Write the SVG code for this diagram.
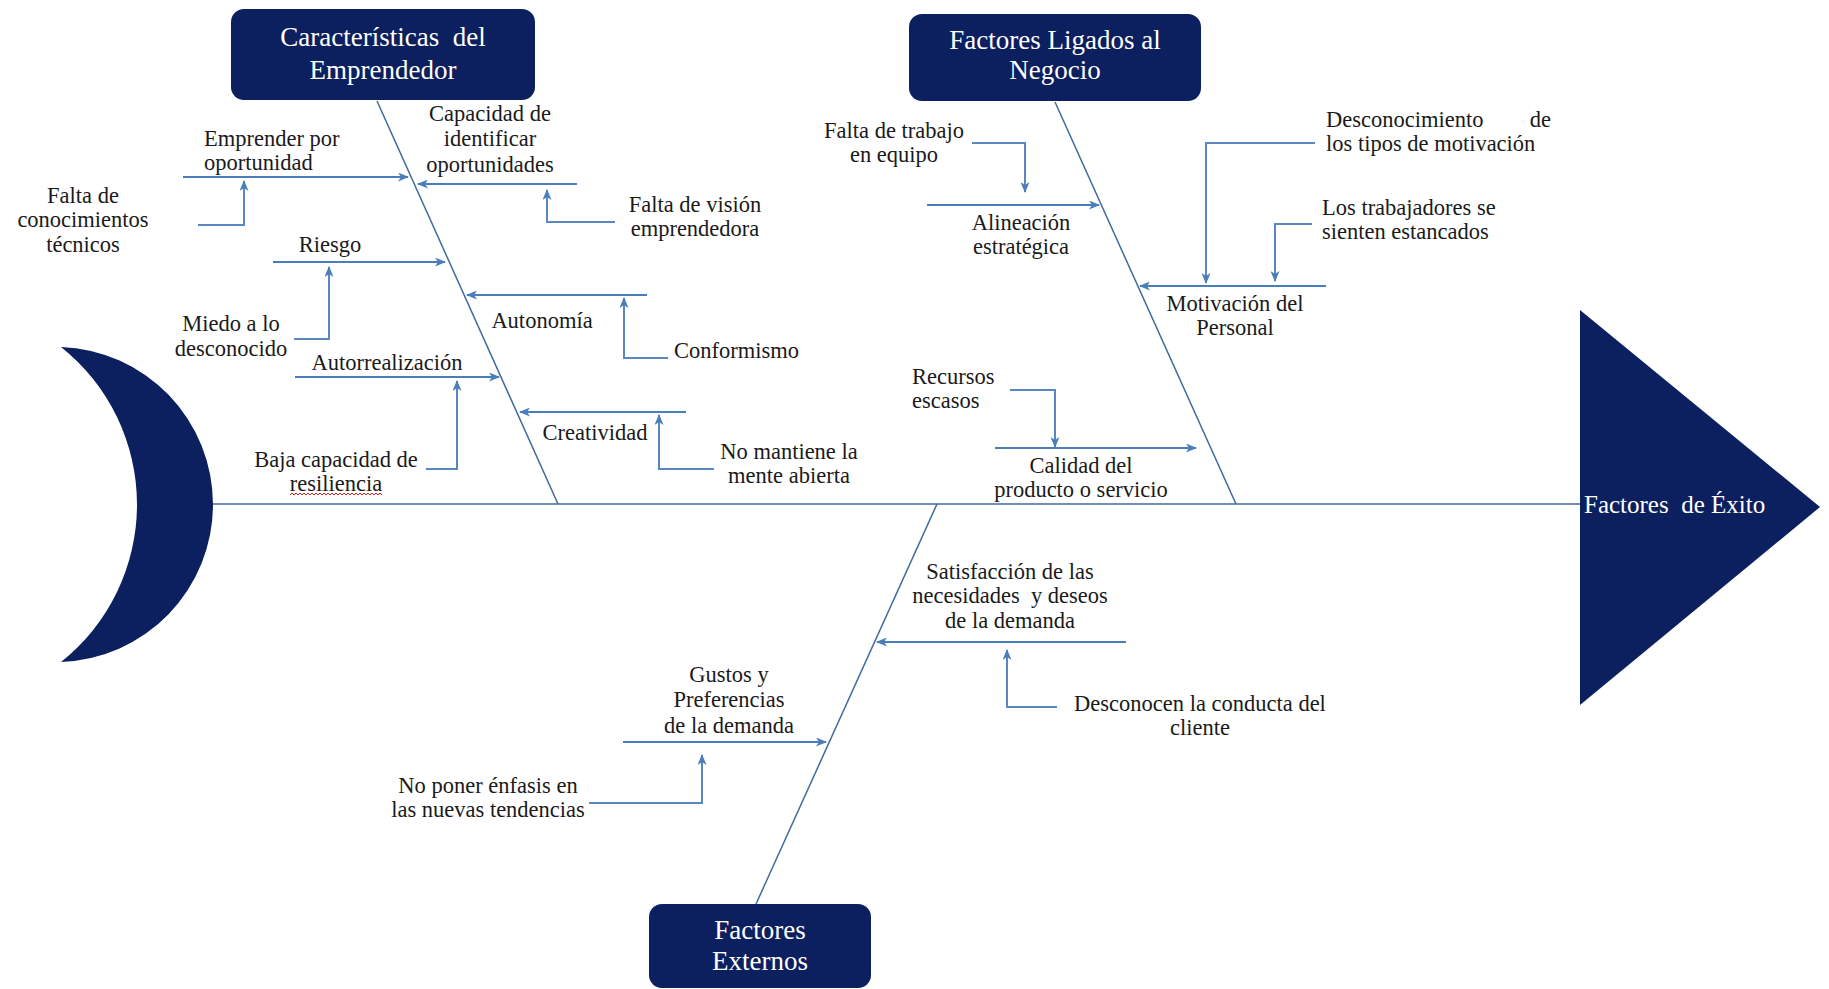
<svg xmlns="http://www.w3.org/2000/svg" width="1829" height="989" viewBox="0 0 1829 989">
<defs>
<marker id="ah" markerWidth="11" markerHeight="9" refX="10" refY="4.5" orient="auto" markerUnits="userSpaceOnUse">
<path d="M0,0 L11,4.5 L0,9 L3,4.5 z" fill="#4a7ebb"/>
</marker>
</defs>
<style>
.box{fill:#0c1f5e;}
.bt{font-family:"Liberation Serif","Times New Roman",serif;font-size:27px;fill:#ffffff;text-anchor:middle;}
.t{font-family:"Liberation Serif","Times New Roman",serif;font-size:22.5px;fill:#1a1a1a;}
.c{text-anchor:middle;}
.bone{stroke:#4169a0;stroke-width:1.5;fill:none;}
.br{stroke:#4a7ebb;stroke-width:2;fill:none;}
.cn{stroke:#5b87c0;stroke-width:2;fill:none;}
</style>
<rect width="1829" height="989" fill="#ffffff"/>

<g id="head">
<path class="box" d="M61,347 A157.6,157.6 0 0 1 61,662 A201.2,201.2 0 0 0 61,347 Z"/>
</g>
<g id="exito">
<polygon class="box" points="1580,310 1580,705 1820,507"/>
<text x="1584" y="513" font-family="Liberation Serif, serif" font-size="25" fill="#ffffff" xml:space="preserve">Factores  de Éxito</text>
</g>

<g id="connectors">
<line class="bone" x1="213" y1="504" x2="1580" y2="504"/>
<line class="bone" x1="377" y1="101" x2="558" y2="504"/>
<line class="bone" x1="1055" y1="102" x2="1236" y2="504"/>
<line class="bone" x1="937" y1="504" x2="756" y2="904"/>

<line class="br" x1="183" y1="177" x2="408" y2="177" marker-end="url(#ah)"/>
<polyline class="cn" points="198,225 244,225 244,181" marker-end="url(#ah)"/>
<line class="br" x1="577" y1="184" x2="418" y2="184" marker-end="url(#ah)"/>
<polyline class="cn" points="615,222 547,222 547,190" marker-end="url(#ah)"/>
<line class="br" x1="273" y1="262" x2="445" y2="262" marker-end="url(#ah)"/>
<polyline class="cn" points="294,339 329,339 329,267" marker-end="url(#ah)"/>
<line class="br" x1="647" y1="295" x2="467" y2="295" marker-end="url(#ah)"/>
<polyline class="cn" points="668,358 624,358 624,298" marker-end="url(#ah)"/>
<line class="br" x1="295" y1="377" x2="499" y2="377" marker-end="url(#ah)"/>
<polyline class="cn" points="426,469 457,469 457,381" marker-end="url(#ah)"/>
<line class="br" x1="686" y1="412" x2="520" y2="412" marker-end="url(#ah)"/>
<polyline class="cn" points="714,469 659,469 659,415" marker-end="url(#ah)"/>

<polyline class="cn" points="972,143 1025,143 1025,192" marker-end="url(#ah)"/>
<line class="br" x1="927" y1="205" x2="1099" y2="205" marker-end="url(#ah)"/>
<polyline class="cn" points="1315,143 1206,143 1206,283" marker-end="url(#ah)"/>
<polyline class="cn" points="1312,224 1275,224 1275,281" marker-end="url(#ah)"/>
<line class="br" x1="1326" y1="286" x2="1140" y2="286" marker-end="url(#ah)"/>
<polyline class="cn" points="1010,390 1055,390 1055,447" marker-end="url(#ah)"/>
<line class="br" x1="995" y1="448" x2="1196" y2="448" marker-end="url(#ah)"/>

<line class="br" x1="1126" y1="642" x2="877" y2="642" marker-end="url(#ah)"/>
<polyline class="cn" points="1057,707 1007,707 1007,650" marker-end="url(#ah)"/>
<line class="br" x1="623" y1="742" x2="826" y2="742" marker-end="url(#ah)"/>
<polyline class="cn" points="589,803 702,803 702,755" marker-end="url(#ah)"/>
</g>

<g id="box-emprendedor">
<rect class="box" x="231" y="9" width="304" height="91" rx="13"/>
<text class="bt" x="383" y="46" xml:space="preserve">Características  del</text>
<text class="bt" x="383" y="79">Emprendedor</text>
</g>
<g id="box-negocio">
<rect class="box" x="909" y="14" width="292" height="87" rx="13"/>
<text class="bt" x="1055" y="49">Factores Ligados al</text>
<text class="bt" x="1055" y="79">Negocio</text>
</g>
<g id="box-externos">
<rect class="box" x="649" y="904" width="222" height="84" rx="13"/>
<text class="bt" x="760" y="939">Factores</text>
<text class="bt" x="760" y="970">Externos</text>
</g>

<g id="n-emprender"><text class="t" x="204" y="146">Emprender por</text><text class="t" x="204" y="170">oportunidad</text></g>
<g id="n-falta-conoc"><text class="t c" x="83" y="203">Falta de</text><text class="t c" x="83" y="227">conocimientos</text><text class="t c" x="83" y="252">técnicos</text></g>
<g id="n-capacidad"><text class="t c" x="490" y="121">Capacidad de</text><text class="t c" x="490" y="146">identificar</text><text class="t c" x="490" y="172">oportunidades</text></g>
<g id="n-falta-vision"><text class="t c" x="695" y="212">Falta de visión</text><text class="t c" x="695" y="236">emprendedora</text></g>
<g id="n-riesgo"><text class="t c" x="330" y="252">Riesgo</text></g>
<g id="n-miedo"><text class="t c" x="231" y="331">Miedo a lo</text><text class="t c" x="231" y="356">desconocido</text></g>
<g id="n-autonomia"><text class="t c" x="542" y="328">Autonomía</text></g>
<g id="n-conformismo"><text class="t" x="674" y="358">Conformismo</text></g>
<g id="n-autorreal"><text class="t c" x="387" y="370">Autorrealización</text></g>
<g id="n-baja"><text class="t c" x="336" y="467">Baja capacidad de</text><text class="t c" x="336" y="491">resiliencia</text>
<polyline points="290,495 292,493 294,495 296,493 298,495 300,493 302,495 304,493 306,495 308,493 310,495 312,493 314,495 316,493 318,495 320,493 322,495 324,493 326,495 328,493 330,495 332,493 334,495 336,493 338,495 340,493 342,495 344,493 346,495 348,493 350,495 352,493 354,495 356,493 358,495 360,493 362,495 364,493 366,495 368,493 370,495 372,493 374,495 376,493 378,495 380,493 382,495" fill="none" stroke="#d02020" stroke-width="1"/></g>
<g id="n-creatividad"><text class="t c" x="595" y="440">Creatividad</text></g>
<g id="n-no-mantiene"><text class="t c" x="789" y="459">No mantiene la</text><text class="t c" x="789" y="483">mente abierta</text></g>

<g id="n-falta-trabajo"><text class="t c" x="894" y="138">Falta de trabajo</text><text class="t c" x="894" y="162">en equipo</text></g>
<g id="n-alineacion"><text class="t c" x="1021" y="230">Alineación</text><text class="t c" x="1021" y="254">estratégica</text></g>
<g id="n-desconocimiento"><text class="t" x="1326" y="127">Desconocimiento</text><text class="t" x="1551" y="127" text-anchor="end">de</text><text class="t" x="1326" y="151">los tipos de motivación</text></g>
<g id="n-trabajadores"><text class="t" x="1322" y="215">Los trabajadores se</text><text class="t" x="1322" y="239">sienten estancados</text></g>
<g id="n-motivacion"><text class="t c" x="1235" y="311">Motivación del</text><text class="t c" x="1235" y="335">Personal</text></g>
<g id="n-recursos"><text class="t" x="912" y="384">Recursos</text><text class="t" x="912" y="408">escasos</text></g>
<g id="n-calidad"><text class="t c" x="1081" y="473">Calidad del</text><text class="t c" x="1081" y="497">producto o servicio</text></g>

<g id="n-satisfaccion"><text class="t c" x="1010" y="579">Satisfacción de las</text><text class="t c" x="1010" y="603" xml:space="preserve">necesidades  y deseos</text><text class="t c" x="1010" y="628">de la demanda</text></g>
<g id="n-desconocen"><text class="t c" x="1200" y="711">Desconocen la conducta del</text><text class="t c" x="1200" y="735">cliente</text></g>
<g id="n-gustos"><text class="t c" x="729" y="682">Gustos y</text><text class="t c" x="729" y="707">Preferencias</text><text class="t c" x="729" y="733">de la demanda</text></g>
<g id="n-no-poner"><text class="t c" x="488" y="793">No poner énfasis en</text><text class="t c" x="488" y="817">las nuevas tendencias</text></g>
</svg>
